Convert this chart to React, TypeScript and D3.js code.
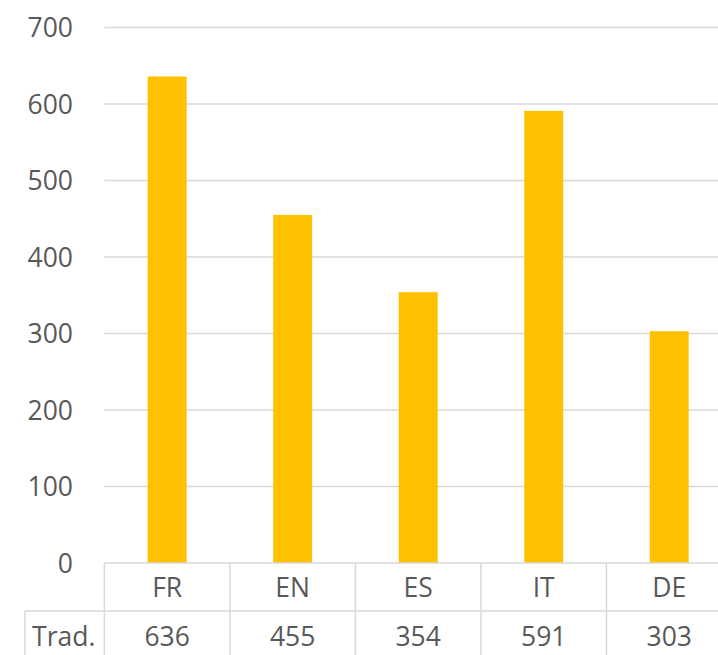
import React from "react";
import * as d3 from "d3";

const categories = ["FR", "EN", "ES", "IT", "DE"];
const values = [636, 455, 354, 591, 303];
const yTicks = [0, 100, 200, 300, 400, 500, 600, 700];
const seriesName = "Trad.";

const W = 718;
const H = 655;
const FONT = "'Open Sans', 'Noto Sans', sans-serif";
const TEXT = "#595959";
const GRID = "#D9D9D9";
const BAR = "#FFC000";

export default function App() {
  const left = 104.4;
  const right = 732;
  const x = d3.scaleBand<string>().domain(categories).range([left, right]).padding(0);
  const y = d3.scaleLinear().domain([0, 700]).range([563, 27.5]);
  const bw = x.bandwidth() * 0.31;
  const row1Top = 563;
  const row2Top = 611;
  const rowBottom = 680;
  const labelLeft = 25;
  const fs = 26.5;

  return (
    <svg width={W} height={H} style={{ position: "absolute", left: 0, top: 0 }}>
      <rect width={W} height={H} fill="#fff" />
      {yTicks.map((t) => (
        <g key={t}>
          {t > 0 && (
            <line x1={left} x2={right} y1={y(t)} y2={y(t)} stroke={GRID} strokeWidth={1.5} />
          )}
          <text x={73} y={y(t)} dy="0.36em" textAnchor="end" fontFamily={FONT} fontSize={fs} fill={TEXT}>
            {t}
          </text>
        </g>
      ))}
      {categories.map((c, i) => (
        <rect
          key={c}
          x={x(c)! + x.bandwidth() / 2 - bw / 2}
          y={y(values[i])}
          width={bw}
          height={y(0) - y(values[i])}
          fill={BAR}
        />
      ))}
      <line x1={left} x2={right} y1={row1Top} y2={row1Top} stroke={GRID} strokeWidth={1.5} />
      <line x1={labelLeft} x2={right} y1={row2Top} y2={row2Top} stroke={GRID} strokeWidth={1.5} />
      <line x1={left} x2={left} y1={row1Top} y2={rowBottom} stroke={GRID} strokeWidth={1.5} />
      <line x1={labelLeft} x2={labelLeft} y1={row2Top} y2={rowBottom} stroke={GRID} strokeWidth={1.5} />
      {categories.map((c) => (
        <line key={c} x1={x(c)! + x.bandwidth()} x2={x(c)! + x.bandwidth()} y1={row1Top} y2={rowBottom} stroke={GRID} strokeWidth={1.5} />
      ))}
      {categories.map((c, i) => (
        <g key={c}>
          <text x={x(c)! + x.bandwidth() / 2} y={587} dy="0.36em" textAnchor="middle" fontFamily={FONT} fontSize={fs} fill={TEXT}>
            {c}
          </text>
          <text x={x(c)! + x.bandwidth() / 2} y={636} dy="0.36em" textAnchor="middle" fontFamily={FONT} fontSize={fs} fill={TEXT}>
            {values[i]}
          </text>
        </g>
      ))}
      <text x={(labelLeft + left) / 2 - 1} y={636} dy="0.36em" textAnchor="middle" fontFamily={FONT} fontSize={fs} fill={TEXT}>
        {seriesName}
      </text>
    </svg>
  );
}
